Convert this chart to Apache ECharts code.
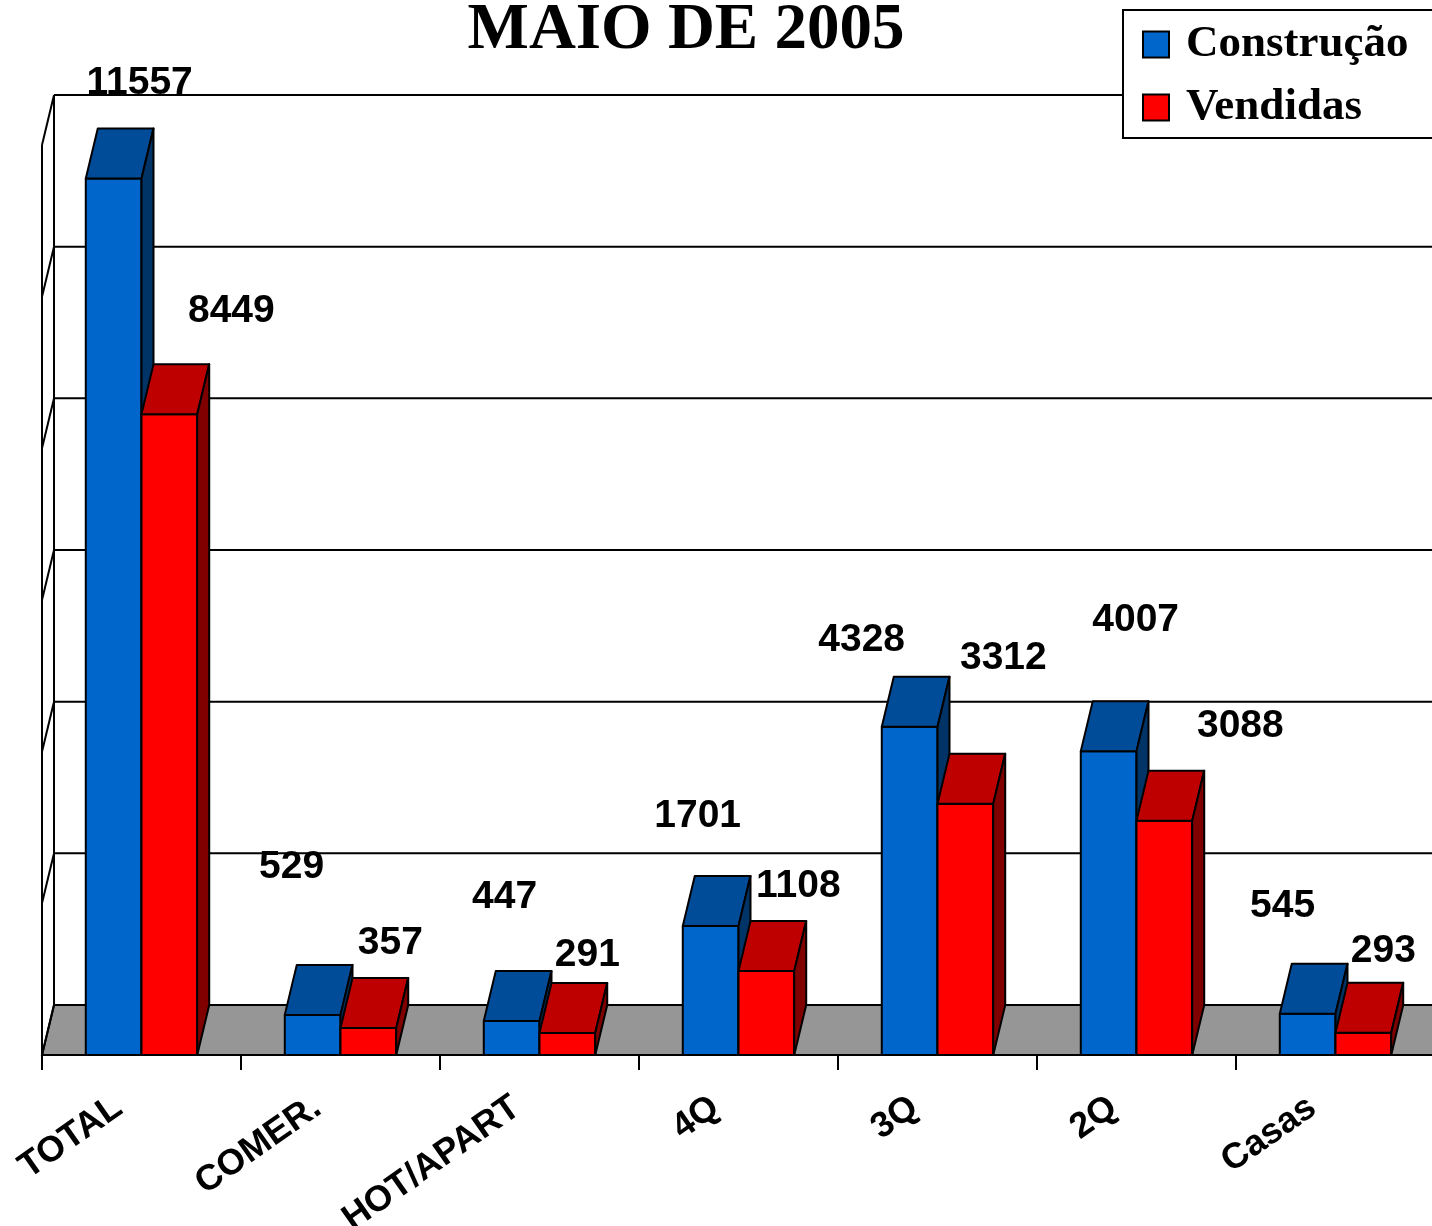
<!DOCTYPE html>
<html>
<head>
<meta charset="utf-8">
<title>MAIO DE 2005</title>
<script src="https://cdn.jsdelivr.net/npm/echarts@6/dist/echarts.min.js"></script>
<style>
  html, body { margin: 0; padding: 0; background: #fff; }
  #chart { width: 1432px; height: 1226px; }
</style>
</head>
<body>
<div id="chart"></div>
<script>
// dados
const categories = ['TOTAL', 'COMER.', 'HOT/APART', '4Q', '3Q', '2Q', 'Casas']
const construcao = [11557, 529, 447, 1701, 4328, 4007, 545]
const vendidas = [8449, 357, 291, 1108, 3312, 3088, 293]
const gridValues = [0, 2000, 4000, 6000, 8000, 10000, 12000]

// deslocamento dos rotulos (como no original, arrastados a mao)
const shiftConstrucao = [[14, -15], [-33, -68], [-19, -44], [-25, -30], [-60, -7], [15, -51], [-37, -27]]
const shiftVendidas = [[50, -23], [10, -5], [8, 2], [20, -5], [26, -66], [64, -15], [8, -2]]

// profundidade 3D
const DX = 12
const DY = -50

const line = (x1, y1, x2, y2) => ({
  type: 'line',
  shape: { x1, y1, x2, y2 },
  style: { stroke: '#000', lineWidth: 2 }
})

function renderWall(params, api) {
  const cs = params.coordSys
  const v = api.value(1)
  const y = api.coord([0, v])[1]
  const x0 = cs.x
  const x1 = cs.x + cs.width + 40
  const children = []
  if (v === 0) {
    children.push({
      type: 'polygon',
      shape: { points: [[x0, y], [x0 + DX, y + DY], [x1 + DX, y + DY], [x1, y]] },
      style: { fill: '#969696', stroke: '#000', lineWidth: 2 }
    })
  } else {
    children.push(line(x0 + DX, y + DY, x1 + DX, y + DY))
  }
  children.push(line(x0, y, x0 + DX, y + DY))
  if (v === gridValues[gridValues.length - 1]) {
    const yb = cs.y + cs.height
    children.push(line(x0, y, x0, yb))
    children.push(line(x0 + DX, y + DY, x0 + DX, yb + DY))
  }
  return { type: 'group', children }
}

function makeBar(colors, side, shifts) {
  return function (params, api) {
    const i = api.value(0)
    const v = api.value(1)
    const base = api.coord([i, 0])
    const top = api.coord([i, v])
    const band = api.size([1, 0])[0]
    const w = band * 0.28
    const x = side < 0 ? base[0] - w : base[0]
    const yb = base[1]
    const yt = top[1]
    const edge = { stroke: '#000', lineWidth: 2, lineJoin: 'round' }
    const sh = shifts[i] || [0, 0]
    return {
      type: 'group',
      children: [
        {
          type: 'rect',
          shape: { x: x, y: yt, width: w, height: yb - yt },
          style: Object.assign({ fill: colors[0] }, edge)
        },
        {
          type: 'polygon',
          shape: { points: [[x, yt], [x + DX, yt + DY], [x + w + DX, yt + DY], [x + w, yt]] },
          style: Object.assign({ fill: colors[1] }, edge)
        },
        {
          type: 'polygon',
          shape: { points: [[x + w, yt], [x + w + DX, yt + DY], [x + w + DX, yb + DY], [x + w, yb]] },
          style: Object.assign({ fill: colors[2] }, edge)
        },
        {
          type: 'text',
          x: x + w / 2 + DX + sh[0],
          y: yt + DY - 30 + sh[1],
          z2: 10,
          style: {
            text: String(v),
            fill: '#000',
            fontSize: 39,
            fontWeight: 'bold',
            fontFamily: '"Liberation Sans", Arial, sans-serif',
            align: 'center',
            verticalAlign: 'middle'
          }
        }
      ]
    }
  }
}

const chart = echarts.init(document.getElementById('chart'))

chart.setOption({
  animation: false,
  backgroundColor: '#fff',
  title: {
    text: 'MAIO DE 2005',
    left: 686,
    top: -1,
    padding: 0,
    textAlign: 'center',
    textStyle: {
      fontFamily: '"Liberation Serif", "Times New Roman", serif',
      fontWeight: 'bold',
      fontSize: 65,
      color: '#000'
    }
  },
  legend: {
    orient: 'vertical',
    left: 1123,
    top: 10,
    padding: [12, 30, 8, 19],
    itemWidth: 26,
    itemHeight: 26,
    itemGap: 18,
    selectedMode: false,
    backgroundColor: '#fff',
    borderColor: '#000',
    borderWidth: 2,
    borderRadius: 0,
    z: 20,
    textStyle: {
      fontFamily: '"Liberation Serif", "Times New Roman", serif',
      fontWeight: 'bold',
      fontSize: 45,
      lineHeight: 44,
      color: '#000',
      padding: [0, 0, 0, 12]
    },
    data: [
      { name: 'Construção', icon: 'rect', itemStyle: { color: '#0066CC', borderColor: '#000', borderWidth: 2 } },
      { name: 'Vendidas', icon: 'rect', itemStyle: { color: '#FF0000', borderColor: '#000', borderWidth: 2 } }
    ]
  },
  grid: {
    left: 42,
    top: 145,
    width: 1393,
    height: 910,
    containLabel: false,
    outerBoundsMode: 'none'
  },
  xAxis: {
    type: 'category',
    data: categories,
    axisLine: { lineStyle: { color: '#000', width: 2 } },
    axisTick: { show: true, length: 15, lineStyle: { color: '#000', width: 2 } },
    axisLabel: {
      interval: 0,
      rotate: 35,
      margin: 33,
      padding: [0, 28, 0, 0],
      color: '#000',
      fontSize: 36,
      fontWeight: 'bold',
      fontFamily: '"Liberation Sans", Arial, sans-serif'
    },
    splitLine: { show: false }
  },
  yAxis: {
    type: 'value',
    min: 0,
    max: 12000,
    interval: 2000,
    show: false
  },
  series: [
    {
      name: 'paredes',
      type: 'custom',
      z: 1,
      silent: true,
      renderItem: renderWall,
      data: gridValues.map(v => [0, v])
    },
    {
      name: 'Construção',
      type: 'custom',
      z: 3,
      itemStyle: { color: '#0066CC' },
      renderItem: makeBar(['#0066CC', '#004C99', '#003366'], -1, shiftConstrucao),
      data: construcao.map((v, i) => [i, v])
    },
    {
      name: 'Vendidas',
      type: 'custom',
      z: 4,
      itemStyle: { color: '#FF0000' },
      renderItem: makeBar(['#FF0000', '#BF0000', '#800000'], 1, shiftVendidas),
      data: vendidas.map((v, i) => [i, v])
    }
  ]
})

window.addEventListener('resize', () => {
  chart.resize()
})
</script>
</body>
</html>
